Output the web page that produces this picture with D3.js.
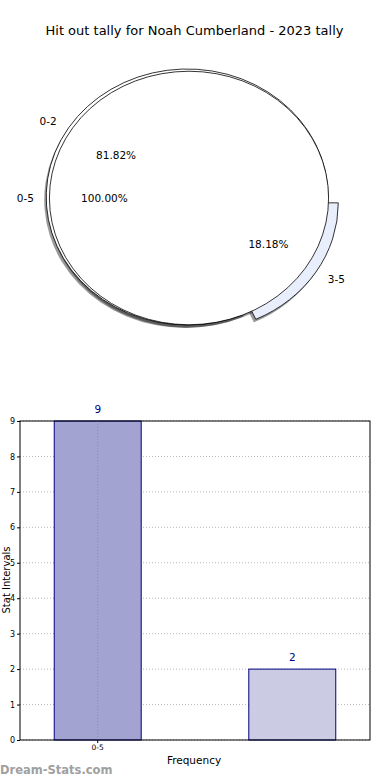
<!DOCTYPE html>
<html>
<head>
<meta charset="utf-8">
<script src="https://cdn.jsdelivr.net/npm/d3@7"></script>
<style>
  body { margin: 0; background: #fff; }
  svg { font-family: "DejaVu Sans", sans-serif; display: block; }
</style>
</head>
<body>
<div id="chart"></div>
<script>
(function(){
// pie data
const titleText = "Hit out tally for Noah Cumberland - 2023 tally";
const innerLabels = ["0-2", "3-5"];
const innerValues = [9, 2];
const outerLabels = ["0-5"];
const outerValues = [11];

// bar data
const barCategories = ["0-5", "3-5"];
const barValues = [9, 2];
const xTickLabels = ["0-5"];
const yTicks = [0, 1, 2, 3, 4, 5, 6, 7, 8, 9];

const W = 390, H = 780;
const svg = d3.select("#chart").append("svg")
    .attr("width", W).attr("height", H);

// title
svg.append("text")
    .attr("x", 194.5).attr("y", 30)
    .attr("text-anchor", "middle")
    .attr("dominant-baseline", "central")
    .style("font-size", "13px")
    .text(titleText);

// ---------- pie ----------
const cx = 189, cy = 198, rx = 141, ry = 128;
const explodeInner = [0.015, 0.07];

// start at 3 o'clock, go counterclockwise like matplotlib
const pie = d3.pie().sort(null)
    .startAngle(Math.PI / 2)
    .endAngle(Math.PI / 2 - 2 * Math.PI);

const innerArcs = pie(innerValues);
const outerArcs = pie(outerValues);
const arc = d3.arc().innerRadius(0).outerRadius(1);
const arcOuter = d3.arc().innerRadius(0).outerRadius(0.99);

function dirOf(a) {
  const mid = (a.startAngle + a.endAngle) / 2;
  return [Math.sin(mid), -Math.cos(mid)];
}

const pieG = svg.append("g");

// shadows
const shadowG = pieG.append("g").attr("transform", `translate(${cx - 2},${cy + 3}) scale(${rx},${ry})`);
innerArcs.forEach((a, i) => {
  const d = dirOf(a), e = explodeInner[i];
  shadowG.append("path")
      .attr("transform", `translate(${d[0] * e},${d[1] * e})`)
      .attr("d", arc(a))
      .attr("fill", "#000").attr("fill-opacity", 0.4);
});
outerArcs.forEach(a => {
  shadowG.append("path").attr("d", arcOuter(a))
      .attr("fill", "#000").attr("fill-opacity", 0.4);
});

const wedgeG = pieG.append("g").attr("transform", `translate(${cx},${cy}) scale(${rx},${ry})`);
const innerFills = ["#ffffff", "#e8eefb"];
innerArcs.forEach((a, i) => {
  const d = dirOf(a), e = explodeInner[i];
  wedgeG.append("path")
      .attr("transform", `translate(${d[0] * e},${d[1] * e})`)
      .attr("d", arc(a))
      .attr("fill", innerFills[i])
      .attr("stroke", "#000")
      .attr("stroke-width", 0.8)
      .attr("vector-effect", "non-scaling-stroke");
});
outerArcs.forEach(a => {
  wedgeG.append("path").attr("d", arcOuter(a))
      .attr("fill", "#fff")
      .attr("stroke", "#000")
      .attr("stroke-width", 0.8)
      .attr("vector-effect", "non-scaling-stroke");
});

// pie labels
function pieLabels(arcs, labels, values, explode) {
  const sum = d3.sum(values);
  arcs.forEach((a, i) => {
    const d = dirOf(a), e = explode[i];
    const lx = cx + rx * (1.1 + e) * d[0];
    const ly = cy + ry * (1.1 + e) * d[1];
    svg.append("text")
        .attr("x", lx).attr("y", ly)
        .attr("text-anchor", d[0] < 0 ? "end" : "start")
        .attr("dominant-baseline", "central")
        .style("font-size", "10.5px")
        .text(labels[i]);
    const px = cx + rx * (0.6 + e) * d[0];
    const py = cy + ry * (0.6 + e) * d[1];
    svg.append("text")
        .attr("x", px).attr("y", py)
        .attr("text-anchor", "middle")
        .attr("dominant-baseline", "central")
        .style("font-size", "10.5px")
        .text((values[i] / sum * 100).toFixed(2) + "%");
  });
}
pieLabels(innerArcs, innerLabels, innerValues, explodeInner);
pieLabels(outerArcs, outerLabels, outerValues, [0]);

// ---------- bars ----------
const left = 20, right = 370, top = 421, bottom = 740;

const x = d3.scaleBand()
    .domain(barCategories)
    .range([left, right])
    .paddingInner(0.553)
    .paddingOuter(0.176);

const y = d3.scaleLinear()
    .domain([0, 9])
    .range([bottom, top]);

const barG = svg.append("g");

// horizontal grid
barG.selectAll(".hgrid").data(yTicks).enter().append("line")
    .attr("x1", left).attr("x2", right)
    .attr("y1", d => y(d)).attr("y2", d => y(d))
    .attr("stroke", "#b8b8b8").attr("stroke-width", 1)
    .attr("stroke-dasharray", "1,2");

const barFills = ["#a3a3d1", "#cbcbe4"];
barG.selectAll(".bar").data(barValues).enter().append("rect")
    .attr("x", (d, i) => x(barCategories[i]))
    .attr("y", d => y(d))
    .attr("width", x.bandwidth())
    .attr("height", d => bottom - y(d))
    .attr("fill", (d, i) => barFills[i])
    .attr("stroke", "#000080")
    .attr("stroke-width", 1);

// vertical grid at labelled ticks
barG.selectAll(".vgrid").data(xTickLabels).enter().append("line")
    .attr("x1", d => x(d) + x.bandwidth() / 2)
    .attr("x2", d => x(d) + x.bandwidth() / 2)
    .attr("y1", top).attr("y2", bottom)
    .attr("stroke", "#8a8aa8").attr("stroke-width", 1)
    .attr("stroke-dasharray", "1,2");

// value labels
barG.selectAll(".val").data(barValues).enter().append("text")
    .attr("x", (d, i) => x(barCategories[i]) + x.bandwidth() / 2)
    .attr("y", d => y(d) - 8)
    .attr("text-anchor", "middle")
    .attr("fill", "#000080")
    .style("font-size", "10.5px")
    .text(d => d);

// frame
barG.append("rect")
    .attr("x", left).attr("y", top)
    .attr("width", right - left).attr("height", bottom - top)
    .attr("fill", "none").attr("stroke", "#000").attr("stroke-width", 1);

// y axis
const yAxis = barG.append("g")
    .attr("transform", `translate(${left},0)`)
    .call(d3.axisLeft(y).tickValues(yTicks).tickSize(3).tickPadding(2));
yAxis.select(".domain").remove();
yAxis.selectAll("text").style("font-size", "8px").attr("font-family", "DejaVu Sans");

// x axis
const xAxis = barG.append("g")
    .attr("transform", `translate(0,${bottom})`)
    .call(d3.axisBottom(x).tickValues(xTickLabels).tickSize(3).tickPadding(2));
xAxis.select(".domain").remove();
xAxis.selectAll("text").style("font-size", "7.5px").attr("font-family", "DejaVu Sans");

// axis titles
svg.append("text")
    .attr("x", 194).attr("y", 760)
    .attr("text-anchor", "middle")
    .attr("dominant-baseline", "central")
    .style("font-size", "10.5px")
    .text("Frequency");

svg.append("text")
    .attr("transform", "translate(6,580) rotate(-90)")
    .attr("text-anchor", "middle")
    .attr("dominant-baseline", "central")
    .style("font-size", "10px")
    .text("Stat Intervals");

// watermark
svg.append("text")
    .attr("x", 0).attr("y", 770)
    .attr("dominant-baseline", "central")
    .attr("fill", "#a0a0a0")
    .style("font-size", "11.5px")
    .style("font-weight", "bold")
    .text("Dream-Stats.com");
})();
</script>
</body>
</html>
